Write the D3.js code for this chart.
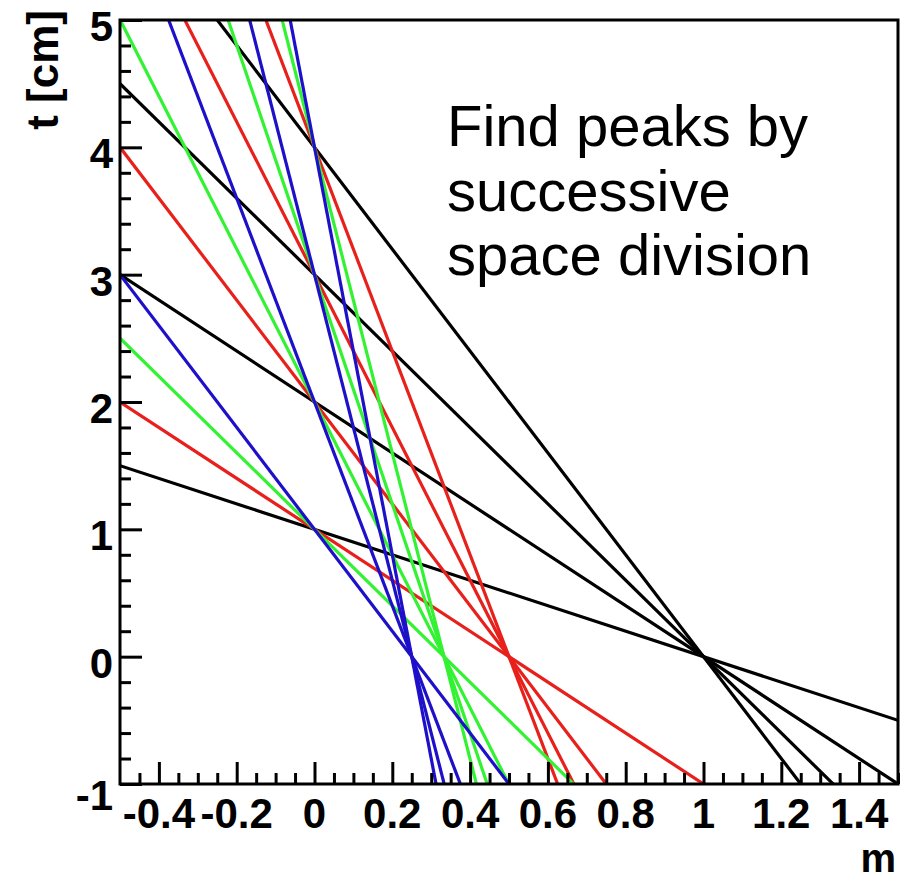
<!DOCTYPE html>
<html>
<head>
<meta charset="utf-8">
<script src="https://cdn.jsdelivr.net/npm/d3@7"></script>
<style>
  html, body { margin: 0; padding: 0; background: #fff; }
  svg { display: block; }
</style>
</head>
<body>
<svg id="chart" width="906" height="882"></svg>
<script>
// ---- data ----
// Each family of lines crosses t = 0 at one m value and the m = 0 axis at t = 1,2,3,4
const families = ["black", "red", "green", "blue"];
const mAtZeroT = [1.0, 0.5, 0.333, 0.25];    // m where each family crosses t = 0
const tAtZeroM = [1, 2, 3, 4];               // t where the lines cross m = 0
const xTicks = [-0.4, -0.2, 0, 0.2, 0.4, 0.6, 0.8, 1, 1.2, 1.4];
const yTicks = [-1, 0, 1, 2, 3, 4, 5];
const xDomain = [-0.5, 1.5];
const yDomain = [-1, 5];

// ---- style ----
const colorOf = { black: "#000000", red: "#e8201c", green: "#33f233", blue: "#1e10c8" };

const svg = d3.select("#chart");
const W = 906, H = 882;
const L = 120, R = 898, T = 20, B = 784;

const x = d3.scaleLinear().domain(xDomain).range([L, R]);
const y = d3.scaleLinear().domain(yDomain).range([B, T]);

svg.append("rect").attr("width", W).attr("height", H).attr("fill", "#fff");

svg.append("defs").append("clipPath").attr("id", "clip")
  .append("rect").attr("x", L).attr("y", T).attr("width", R - L).attr("height", B - T);

// build lines: t = k * (1 - m / m0)
const lines = [];
families.forEach((f, i) => {
  tAtZeroM.forEach(k => {
    lines.push({ family: f, k: k, m0: mAtZeroT[i] });
  });
});

const lineGen = d3.line().x(d => x(d[0])).y(d => y(d[1]));
const g = svg.append("g").attr("clip-path", "url(#clip)");
g.selectAll("path.hl")
  .data(lines)
  .join("path")
  .attr("class", "hl")
  .attr("fill", "none")
  .attr("stroke", d => colorOf[d.family])
  .attr("stroke-width", 3.2)
  .attr("d", d => {
    const pts = xDomain.map(m => [m, d.k * (1 - m / d.m0)]);
    return lineGen(pts);
  });

// frame
svg.append("rect").attr("x", L).attr("y", T).attr("width", R - L).attr("height", B - T)
  .attr("fill", "none").attr("stroke", "#000").attr("stroke-width", 3);

const font = "Liberation Sans, Arial, Helvetica, sans-serif";

// x axis ticks (inside)
const xMinor = d3.range(-0.45, 1.5001, 0.05).map(v => +v.toFixed(2));
const xAxis = d3.axisBottom(x).tickValues(xMinor).tickSizeOuter(0).tickFormat("");
const gx = svg.append("g").attr("transform", `translate(0,${B})`).call(xAxis);
gx.select(".domain").remove();
gx.selectAll(".tick line").attr("stroke", "#000").attr("stroke-width", 3)
  .attr("y2", d => (Math.abs(Math.round(d * 5) - d * 5) < 1e-6) ? -22 : -11);

svg.append("g").selectAll("text").data(xTicks).join("text")
  .attr("x", d => x(d)).attr("y", 828)
  .attr("text-anchor", "middle")
  .attr("font-family", font)
  .attr("font-weight", "bold").attr("font-size", 42)
  .text(d => String(d));

// y axis ticks (inside)
const yMinor = d3.range(-1, 5.0001, 0.2).map(v => +v.toFixed(2));
const yAxis = d3.axisLeft(y).tickValues(yMinor).tickSizeOuter(0).tickFormat("");
const gy = svg.append("g").attr("transform", `translate(${L},0)`).call(yAxis);
gy.select(".domain").remove();
gy.selectAll(".tick line").attr("stroke", "#000").attr("stroke-width", 3)
  .attr("x2", d => (Math.abs(Math.round(d) - d) < 1e-6) ? 22 : 11);

svg.append("g").selectAll("text").data(yTicks).join("text")
  .attr("x", 113).attr("y", d => y(d) + (d === -1 ? 26 : 21))
  .attr("text-anchor", "end")
  .attr("font-family", font)
  .attr("font-weight", "bold").attr("font-size", 42)
  .text(d => String(d));

// axis titles
svg.append("text")
  .attr("x", 896).attr("y", 872).attr("text-anchor", "end")
  .attr("font-family", font)
  .attr("font-weight", "bold").attr("font-size", 40)
  .text("m");

svg.append("text")
  .attr("transform", "translate(58,10) rotate(-90)")
  .attr("text-anchor", "end")
  .attr("font-family", font)
  .attr("font-weight", "bold").attr("font-size", 44)
  .text("t [cm]");

// annotation
const note = ["Find peaks by", "successive", "space division"];
svg.append("g").selectAll("text").data(note).join("text")
  .attr("x", 447).attr("y", (d, i) => 146 + i * 64.5)
  .attr("font-family", font)
  .attr("font-size", 58)
  .attr("fill", "#000")
  .text(d => d);
</script>
</body>
</html>
